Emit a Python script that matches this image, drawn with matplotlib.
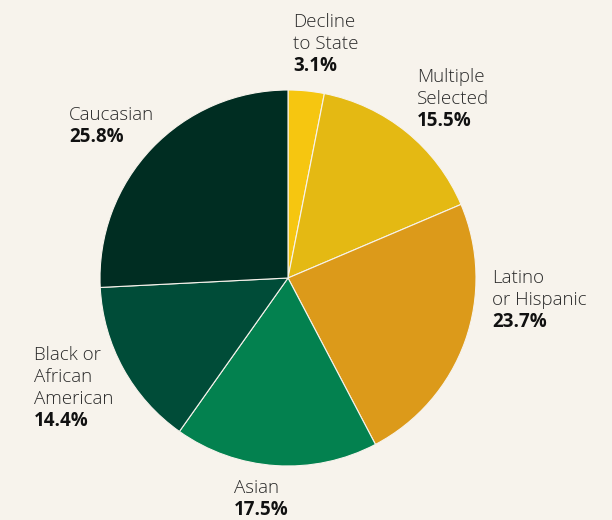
import matplotlib.pyplot as plt

plt.rcParams["font.family"] = ["Open Sans", "DejaVu Sans"]

# data, clockwise from 12 o'clock
names = [
    ["Decline", "to State"],
    ["Multiple", "Selected"],
    ["Latino", "or Hispanic"],
    ["Asian"],
    ["Black or", "African", "American"],
    ["Caucasian"],
]
shares = [3.1, 15.5, 23.7, 17.5, 14.4, 25.8]
colors = ["#F6C610", "#E4B913", "#DC9A1A", "#03814F", "#004C38", "#002D22"]

BG = "#F7F3EC"
W, H = 612, 520

fig = plt.figure(figsize=(W / 100, H / 100), dpi=100, facecolor=BG)

# pie centre (288, 278) px, radius 188 px
cx, cy, r = 288, 278, 188
ax = fig.add_axes([(cx - r) / W, 1 - (cy + r) / H, 2 * r / W, 2 * r / H])
ax.pie(
    shares,
    colors=colors,
    startangle=90,
    counterclock=False,
    radius=1,
    wedgeprops=dict(edgecolor=BG, linewidth=0.8),
)
ax.set_xlim(-1, 1)
ax.set_ylim(-1, 1)
ax.set_aspect("equal")
ax.axis("off")

# label anchor: left x, baseline of first line (pixels from top)
anchors = [(293, 27), (417, 82), (492, 283), (234, 493), (34, 360), (69, 120)]
step = 22

for name_lines, val, (x, y0) in zip(names, shares, anchors):
    for k, line in enumerate(name_lines):
        fig.text(x / W, 1 - (y0 + k * step) / H, line, fontsize=13.5,
                 fontweight="light", color="#2a2a2a", ha="left", va="baseline")
    yb = y0 + len(name_lines) * step
    fig.text(x / W, 1 - yb / H, f"{val:.1f}%", fontsize=13.5,
             fontweight="bold", color="#111111", ha="left", va="baseline")

fig.savefig("out.png", dpi=100, facecolor=BG)
